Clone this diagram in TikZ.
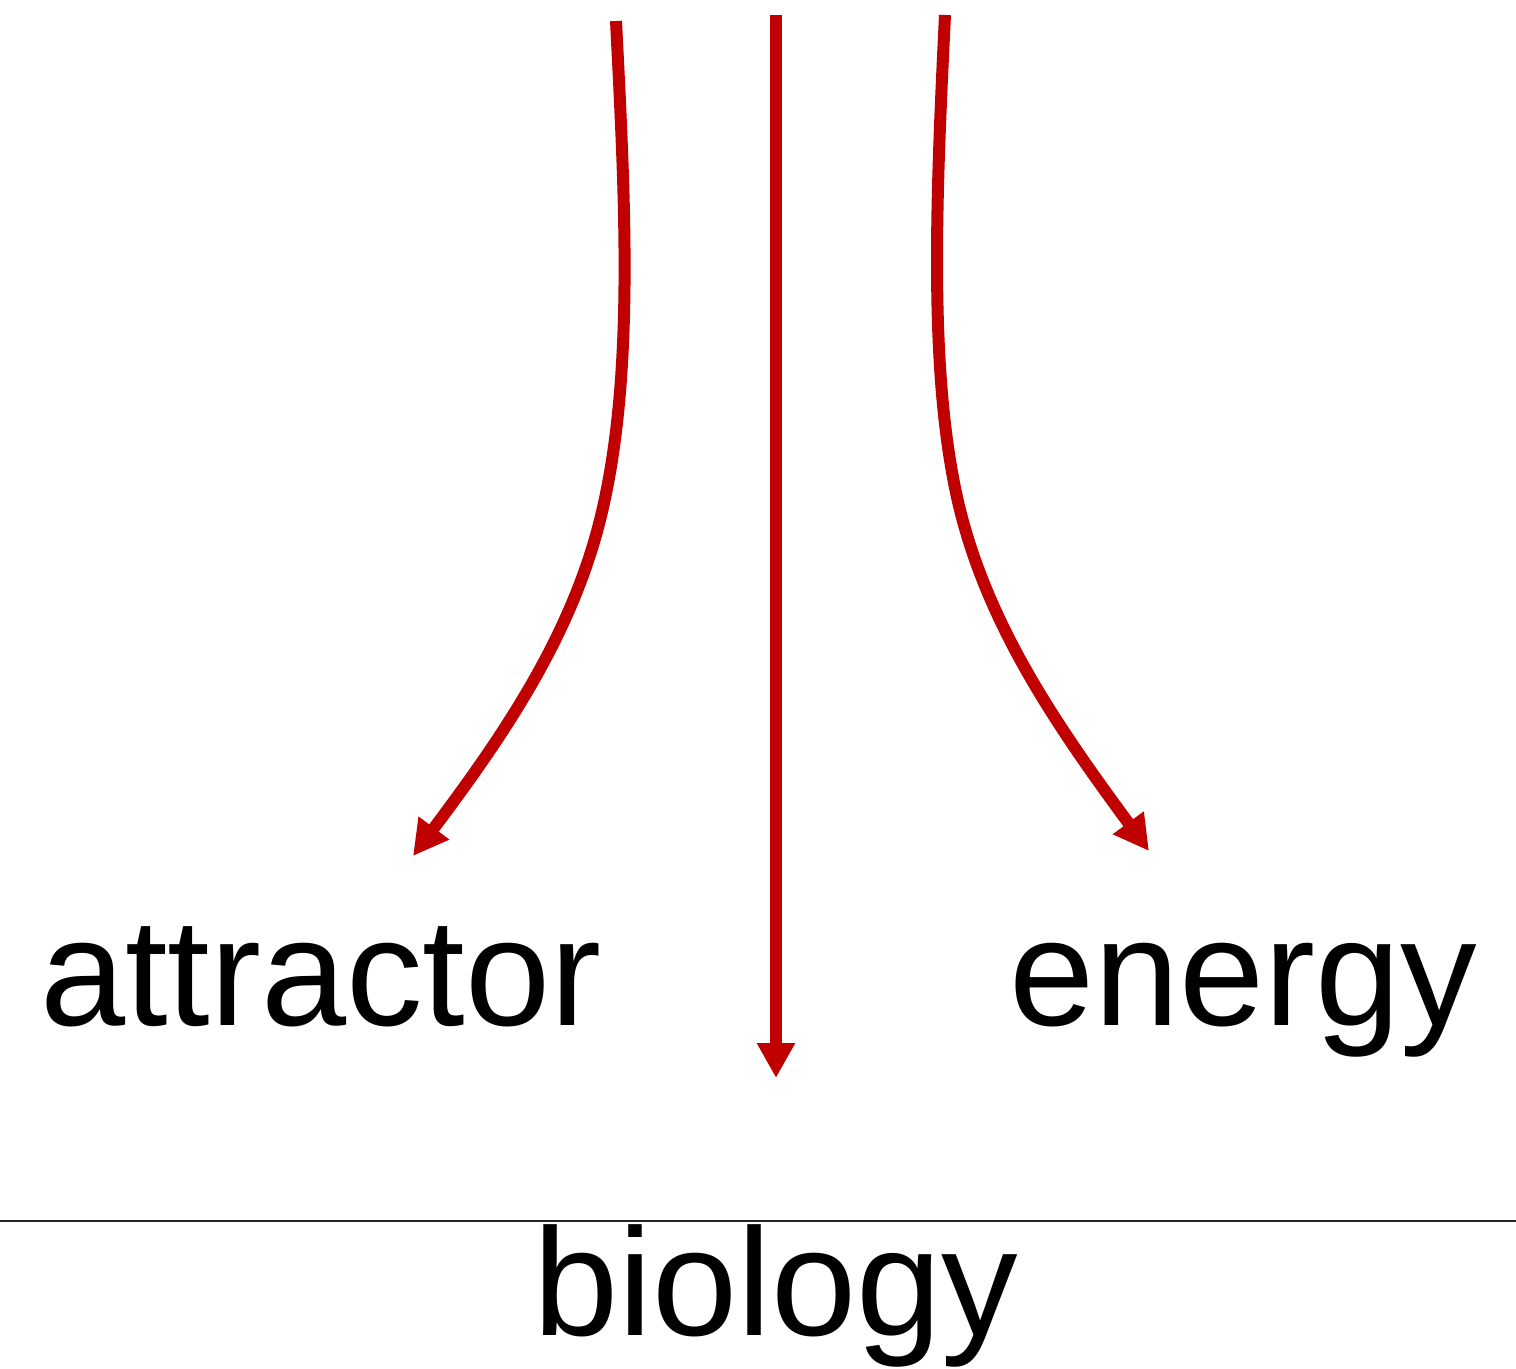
\documentclass[tikz,border=0pt]{standalone}
\usepackage{fontspec}
\setmainfont{Liberation Sans}
\usetikzlibrary{arrows.meta}
\definecolor{arrowred}{HTML}{C00000}
\tikzset{
  flow/.style={draw=arrowred, line width=6pt, line cap=butt,
    -{Triangle[length=17.5pt, width=18pt]}},
  label/.style={anchor=base west, inner sep=0pt, outer sep=0pt,
    font=\fontsize{76.5}{90}\selectfont},
  rule/.style={draw=black!85, line width=1pt}
}
\begin{document}
\begin{tikzpicture}[x=0.5pt, y=-0.5pt]
\useasboundingbox (0,0) rectangle (1516,1369);
% coordinates
\coordinate (lstart) at (616,21);
\coordinate (lend) at (413,856);
\coordinate (mstart) at (776,15);
\coordinate (mend) at (776,1078);
\coordinate (rstart) at (945,15);
\coordinate (rend) at (1149,851);
\coordinate (ruleL) at (0,1221);
\coordinate (ruleR) at (1516,1221);
% labels
\node[label] (attractor) at (40,1025) {attractor};
\node[label] (energy) at (1009,1025) {energy};
\node[label] (biology) at (533,1335) {biology};
% arrows
\draw[flow] (lstart) .. controls (625,200) and (635,380) .. (600,520)
  .. controls (570,640) and (500,740) .. (lend);
\draw[flow] (mstart) -- (mend);
\draw[flow] (rstart) .. controls (936,200) and (928,380) .. (960,510)
  .. controls (990,630) and (1060,730) .. (rend);
% rule
\draw[rule] (ruleL) -- (ruleR);
\end{tikzpicture}
\end{document}
